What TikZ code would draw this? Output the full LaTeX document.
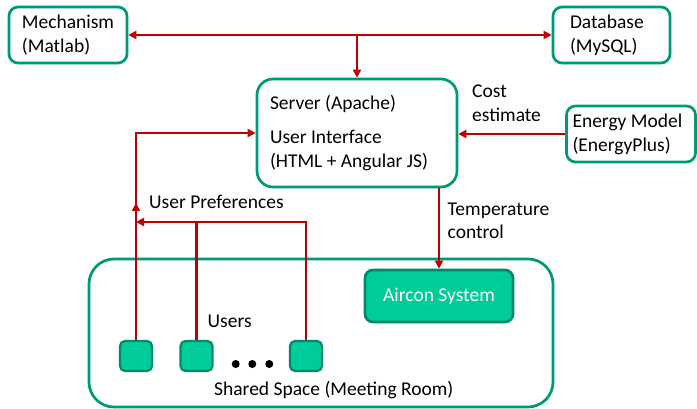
\documentclass[tikz,border=0pt]{standalone}
\usepackage{fontspec}
\setmainfont{Carlito}
\usepackage{tikz}
\usetikzlibrary{arrows.meta,positioning,calc}
\definecolor{boxgreen}{RGB}{0,153,119}
\definecolor{fillgreen}{RGB}{0,204,153}
\definecolor{linkred}{RGB}{192,0,0}

\begin{document}
\begin{tikzpicture}[
    x=1pt, y=-1pt,
    font=\fontsize{19.5}{24}\selectfont,
    box/.style={rectangle, rounded corners=9pt, draw=boxgreen, line width=2.7pt, align=flush left, inner sep=0pt},
    unit/.style={rectangle, rounded corners=5pt, draw=boxgreen!90!black, line width=2.2pt, fill=fillgreen, minimum width=32pt, minimum height=30pt},
    link/.style={draw=linkred, line width=2.7pt},
    arrow/.style={link, -{Triangle[length=8pt, width=8pt]}},
    lbl/.style={align=left, inner sep=0pt, anchor=base west}
]
    \useasboundingbox (0,0) rectangle (697,409);

    \node[box, minimum width=118pt, minimum height=56pt] (mech) at (68,35) {Mechanism\\(Matlab)};
    \node[box, text width=83pt, inner xsep=17pt, minimum height=56pt] (db) at (611.5,35) {Database\\(MySQL)};
    \node[box, rounded corners=16pt, text width=174pt, inner xsep=13pt, minimum height=108pt] (server) at (357,133)
        {Server (Apache)\\[10pt]User Interface\\(HTML + Angular JS)};
    \node[box, text width=117pt, inner xsep=6pt, minimum height=56pt] (energy) at (631,134) {Energy Model\\(EnergyPlus)};

    \node[box, rounded corners=25pt, minimum width=464pt, minimum height=148pt] (room) at (321,333) {};
    \node[box, rounded corners=8pt, draw=boxgreen!90!black, fill=fillgreen, text=white, align=center,
          minimum width=148pt, minimum height=52pt] (aircon) at (439,296) {Aircon System};

    \node[unit] (u1) at (136,356) {};
    \node[unit] (u2) at (196.5,356) {};
    \node[unit] (u3) at (306,356) {};
    \foreach \i/\x in {1/235.7, 2/252.3, 3/269.3}
        \node[circle, fill=black, inner sep=0pt, minimum size=8pt] (dot\i) at (\x,364) {};

    \node[lbl] (users) at (207.5,327) {Users};
    \node[lbl] (space) at (214,395) {Shared Space (Meeting Room)};
    \node[lbl] (prefs) at (149,209) {User Preferences};
    \node[lbl] (cost) at (472,122) {Cost\\estimate};
    \node[lbl] (temp) at (447.5,239) {Temperature\\control};

    \coordinate (top) at (357,35);
    \coordinate (up) at (136,203);
    \coordinate (pj) at (136,222);

    \draw[link, {Triangle[length=8pt, width=8pt]}-{Triangle[length=8pt, width=8pt]}] (mech.east) -- (db.west);
    \draw[arrow] (top) -- (server.north);
    \draw[arrow] (energy.west) -- (energy.west -| server.east);
    \draw[arrow] (server.south -| aircon.north) -- (aircon.north);

    \draw[arrow] (u1.north) -- (u1.north |- server.west) -- (server.west);
    \draw[arrow] (u1.north) -- (up);
    \draw[arrow] (u3.north) |- (pj);
    \draw[link] (u2.north) -- (u2.north |- pj);
\end{tikzpicture}
\end{document}
